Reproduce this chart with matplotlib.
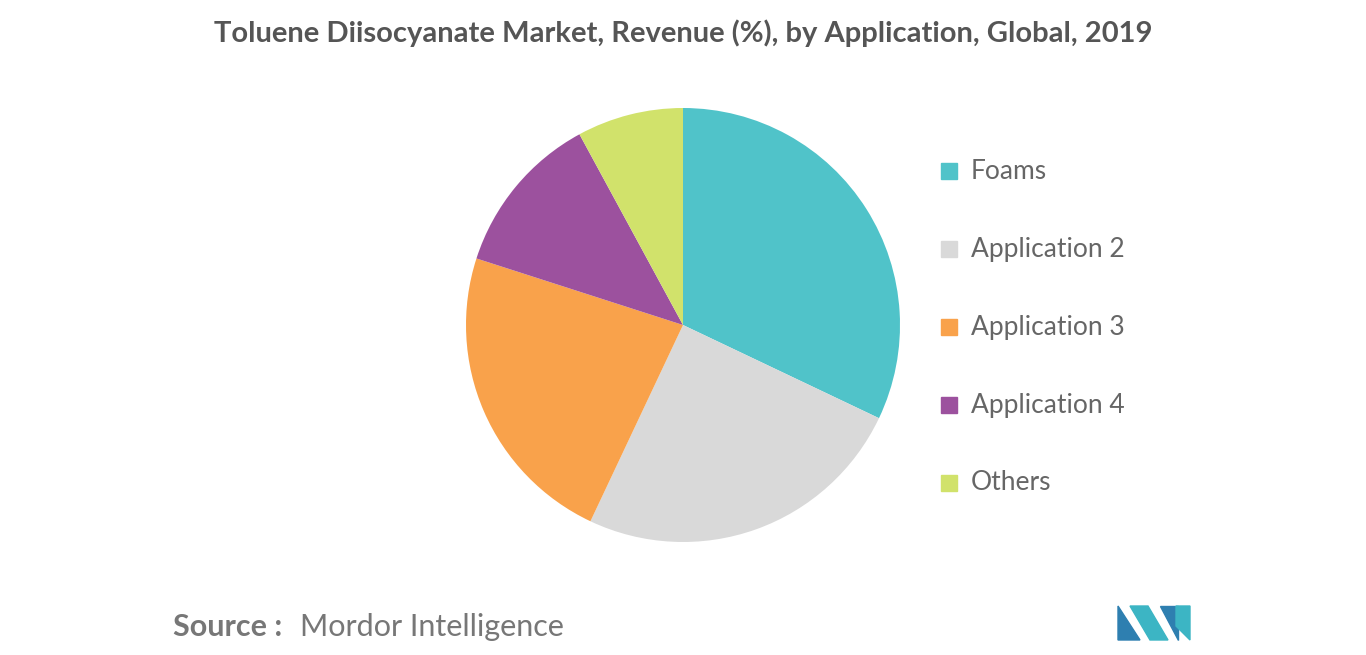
import matplotlib
matplotlib.use('Agg')
import matplotlib.pyplot as plt
from matplotlib.patches import Polygon

labels = ['Foams', 'Application 2', 'Application 3', 'Application 4', 'Others']
shares = [32.0, 24.9, 22.9, 12.1, 7.9]
colors = ['#50C3C9', '#D9D9D9', '#F9A24B', '#9C519E', '#D1E26B']

fig = plt.figure(figsize=(13.66, 6.55), dpi=100)
fig.patch.set_facecolor('white')

# pie centred at (683, 325), radius ~217 px
ax = fig.add_axes([(683 - 217) / 1366, 1 - (325 + 217) / 655, 434 / 1366, 434 / 655])
ax.pie(shares, colors=colors, startangle=90, counterclock=False,
       wedgeprops=dict(linewidth=0), radius=1, frame=False)
ax.set_xlim(-1, 1)
ax.set_ylim(-1, 1)
ax.set_aspect('equal')
ax.axis('off')

fig.text(0.5, 1 - 33 / 655, 'Toluene Diisocyanate Market, Revenue (%), by Application, Global, 2019',
         ha='center', va='center', fontsize=21, fontweight='bold', color='#555555', family='Lato')

# legend
for i, (lab, c) in enumerate(zip(labels, colors)):
    y = 171 + i * 78
    fig.patches.append(plt.Rectangle((941 / 1366, 1 - (y + 8) / 655), 16 / 1366, 16 / 655,
                                     transform=fig.transFigure, color=c))
    fig.text(971 / 1366, 1 - y / 655, lab, ha='left', va='center', fontsize=19,
             color='#666666', family='Lato')

fig.text(173 / 1366, 1 - 627 / 655, 'Source :', ha='left', va='center', fontsize=22,
         fontweight='bold', color='#777777', family='Lato')
fig.text(300 / 1366, 1 - 627 / 655, 'Mordor Intelligence', ha='left', va='center', fontsize=22,
         color='#777777', family='Lato')

# simple logo
def px(pts):
    return [(x / 1366, 1 - y / 655) for x, y in pts]
fig.patches.append(Polygon(px([(1118, 640), (1118, 606), (1140, 640)]), closed=True,
                           transform=fig.transFigure, color='#2E7FB0'))
fig.patches.append(Polygon(px([(1130, 606), (1148, 606), (1168, 640), (1150, 640)]), closed=True,
                           transform=fig.transFigure, color='#3CB5C4'))
fig.patches.append(Polygon(px([(1160, 606), (1178, 606), (1178, 640)]), closed=True,
                           transform=fig.transFigure, color='#2E7FB0'))
fig.patches.append(Polygon(px([(1176, 606), (1190, 606), (1190, 640), (1176, 626)]), closed=True,
                           transform=fig.transFigure, color='#3CB5C4'))

fig.savefig('out.png', dpi=100, facecolor='white')
